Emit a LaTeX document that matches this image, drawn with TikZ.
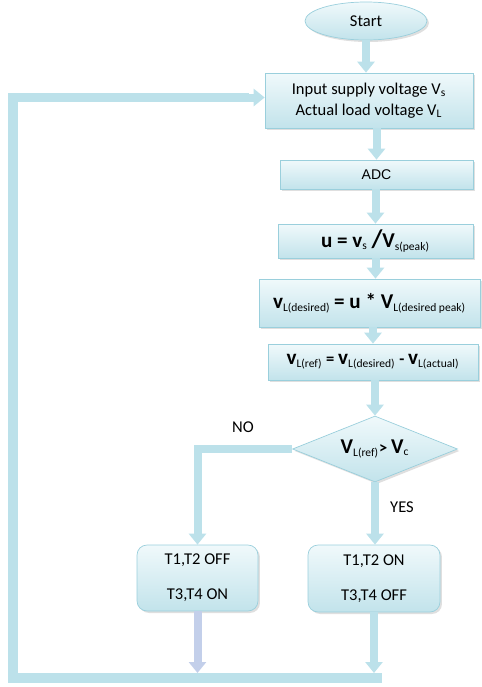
\documentclass[tikz,border=0pt]{standalone}
\usepackage{fontspec}
\setmainfont{Carlito}
\newfontfamily\adcfont{Liberation Sans}
\usepackage{tikz}
\usetikzlibrary{shapes,arrows,positioning,calc,arrows.meta,shadows}

\definecolor{boxline}{HTML}{9ACFDC}
\definecolor{boxtop}{HTML}{F0F9FB}
\definecolor{boxbot}{HTML}{C2E3EB}
\definecolor{arrowfill}{HTML}{BCE1EA}
\definecolor{arrowlav}{HTML}{C3CFEA}

\tikzset{
    box/.style={draw=boxline, top color=boxtop, bottom color=boxbot, inner sep=0pt,
        drop shadow={opacity=0.25, shadow xshift=0.04cm, shadow yshift=-0.04cm}},
    flow/.style={line width=0.16cm, color=arrowfill, -{Triangle[width=0.34cm,length=0.22cm]}},
    loopbar/.style={line width=0.19cm, color=arrowfill, line join=miter}
}

\begin{document}
\begin{tikzpicture}[x=0.02cm, y=-0.02cm, font=\fontsize{9.4}{11}\selectfont]
    \useasboundingbox (0,0) rectangle (481,687);

    % Start
    \node[box, ellipse, minimum width=2.44cm, minimum height=0.76cm] (start) at (366,21) {Start};

    % Process boxes
    \node[box, minimum width=4.16cm, minimum height=1.1cm, align=center] (input) at (369,100.5)
        {Input supply voltage V\textsubscript{s}\\[1pt] Actual load voltage V\textsubscript{L}};
    \node[box, minimum width=3.86cm, minimum height=0.58cm, font=\adcfont\fontsize{8}{10}\selectfont] (adc) at (376.5,174.5) {ADC};
    \node[box, minimum width=3.9cm, minimum height=0.68cm] (ratio) at (375.5,241)
        {\textbf{\large u = v}\textsubscript{s} \textbf{\Large/\large V}\textsubscript{s(peak)}};
    \node[box, minimum width=4.42cm, minimum height=0.96cm] (desired) at (369.5,303)
        {\textbf{\large v}\textsubscript{L(desired)} \textbf{\large = u * V}\textsubscript{L(desired peak)}};
    \node[box, minimum width=4.2cm, minimum height=0.72cm] (ref) at (373,362)
        {\textbf{\large v}\textsubscript{L(ref)} \textbf{= \large v}\textsubscript{L(desired)} \textbf{- \large v}\textsubscript{L(actual)}};

    % Decision
    \node[box, diamond, aspect=2.5, minimum width=3.3cm, minimum height=1.32cm] (decide) at (375,449)
        {\textbf{\large V}\textsubscript{L(ref)}\textbf{> \large V}\textsubscript{c}};

    % Switch states
    \node[box, rounded corners=0.2cm, minimum width=2.42cm, minimum height=1.32cm, align=center] (off) at (197.5,578)
        {T1,T2 OFF\\[9pt] T3,T4 ON};
    \node[box, rounded corners=0.2cm, minimum width=2.64cm, minimum height=1.34cm, align=center] (on) at (374,578.5)
        {T1,T2 ON\\[9pt] T3,T4 OFF};

    % Labels
    \node (nolbl) at (243,427) {NO};
    \node (yeslbl) at (402,507) {YES};

    % Loop corners
    \coordinate (loopR) at (382,678);
    \coordinate (loopL) at (13,678);
    \coordinate (loopT) at (13,97.5);

    % Arrows
    \draw[flow] (start.south) -- (start.south |- input.north);
    \draw[flow] (adc.north |- input.south) -- (adc.north);
    \draw[flow] (ratio.north |- adc.south) -- (ratio.north);
    \draw[flow] (ratio.south) -- (ratio.south |- desired.north);
    \draw[flow] (ref.north |- desired.south) -- (ref.north);
    \draw[flow] (decide.north |- ref.south) -- (decide.north);
    \draw[flow] (decide.west) -| (off.north);
    \draw[flow] (decide.south) -- (decide.south |- on.north);
    \draw[flow, color=arrowlav] (off.south) -- ($(off.south |- loopR)+(0,-5)$);
    \draw[flow] (on.south) -- ($(on.south |- loopR)+(0,-5)$);

    % Feedback loop
    \draw[loopbar] (loopR) -- (loopL) -- (loopT) -- ($(input.west)+(-16,-3)$);
    \draw[flow] ($(input.west)+(-20,-3)$) -- ($(input.west)+(0,-3)$);
\end{tikzpicture}
\end{document}
